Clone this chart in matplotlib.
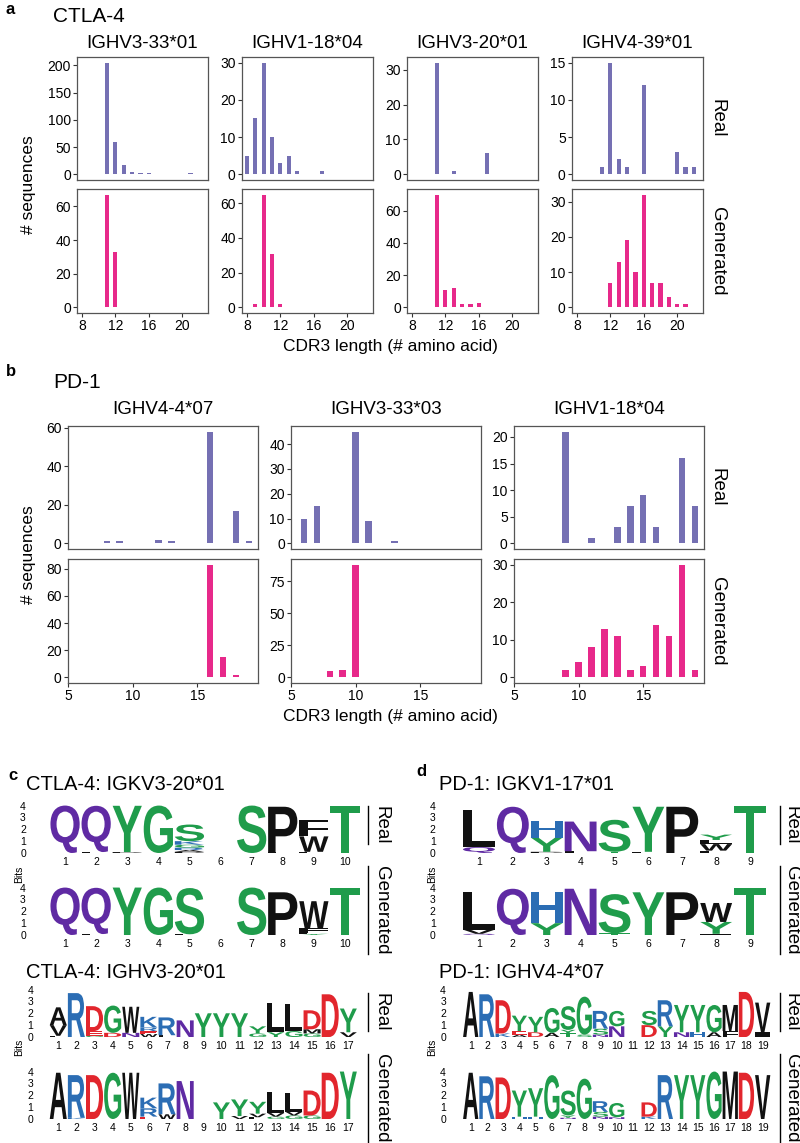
import numpy as np
import matplotlib
matplotlib.use('agg')
import matplotlib.pyplot as plt
import matplotlib.transforms as mtransforms
from matplotlib.textpath import TextPath
from matplotlib.patches import PathPatch
from matplotlib.font_manager import FontProperties
from matplotlib.lines import Line2D

plt.rcParams['font.family'] = ['Liberation Sans', 'DejaVu Sans']

# ---------------- data: CDR3 length histograms ----------------
a_genes = ['IGHV3-33*01', 'IGHV1-18*04', 'IGHV3-20*01', 'IGHV4-39*01']
a_real_len = [[10, 11, 12, 13, 14, 15, 16, 17, 18, 21],
              [8, 9, 10, 11, 12, 13, 14, 17],
              [11, 13, 17],
              [11, 12, 13, 14, 16, 20, 21, 22]]
a_real_cnt = [[1, 205, 60, 18, 4, 3, 2, 1, 1, 3],
              [5, 15, 30, 10, 3, 5, 1, 1],
              [32, 1, 6],
              [1, 15, 2, 1, 12, 3, 1, 1]]
a_gen_len = [[11, 12],
             [9, 10, 11, 12],
             [11, 12, 13, 14, 15, 16],
             [12, 13, 14, 15, 16, 17, 18, 19, 20, 21]]
a_gen_cnt = [[67, 33],
             [2, 65, 31, 2],
             [70, 11, 12, 2, 2, 3],
             [7, 13, 19, 10, 32, 7, 7, 3, 1, 1]]
a_real_yticks = [[0, 50, 100, 150, 200], [0, 10, 20, 30], [0, 10, 20, 30], [0, 5, 10, 15]]
a_gen_yticks = [[0, 20, 40, 60], [0, 20, 40, 60], [0, 20, 40, 60], [0, 10, 20, 30]]
a_xticks = [8, 12, 16, 20]

b_genes = ['IGHV4-4*07', 'IGHV3-33*03', 'IGHV1-18*04']
b_real_len = [[8, 9, 12, 13, 16, 18, 19],
              [6, 7, 10, 11, 13],
              [9, 11, 13, 14, 15, 16, 18, 19]]
b_real_cnt = [[1, 1, 2, 1, 58, 17, 1],
              [10, 15, 45, 9, 1],
              [21, 1, 3, 7, 9, 3, 16, 7]]
b_gen_len = [[16, 17, 18],
             [8, 9, 10],
             [9, 10, 11, 12, 13, 14, 15, 16, 17, 18, 19]]
b_gen_cnt = [[83, 15, 2],
             [5, 6, 88],
             [2, 4, 8, 13, 11, 2, 3, 14, 11, 30, 2]]
b_real_yticks = [[0, 20, 40, 60], [0, 10, 20, 30, 40], [0, 5, 10, 15, 20]]
b_gen_yticks = [[0, 20, 40, 60, 80], [0, 25, 50, 75], [0, 10, 20, 30]]
b_xticks = [5, 10, 15]

# ---------------- data: sequence logos (stacks bottom -> top, bits) ----------------
c_light_real = [[('Q', 4.0)], [('L', 0.08), ('Q', 3.9)], [('P', 0.08), ('Y', 3.9)], [('G', 4.0)],
                [('P', 0.1), ('A', 0.15), ('R', 0.2), ('G', 0.25), ('K', 0.3), ('S', 1.4)],
                [], [('S', 4.0)], [('L', 0.05), ('P', 3.85)],
                [('L', 0.1), ('W', 1.3), ('F', 1.4)], [('T', 4.0)]]
c_light_gen = [[('Q', 4.0)], [('L', 0.08), ('Q', 3.9)], [('Y', 4.0)], [('G', 4.0)],
               [('L', 0.06), ('S', 3.9)], [], [('S', 4.0)], [('P', 3.6)],
               [('Y', 0.1), ('L', 0.1), ('F', 0.35), ('W', 2.3)], [('T', 4.0)]]
c_heavy_real = [[('L', 0.1), ('V', 0.9), ('A', 1.5)], [('R', 3.7)],
                [('G', 0.1), ('E', 0.4), ('D', 2.1)], [('D', 0.35), ('G', 2.3)],
                [('N', 0.35), ('W', 2.2)], [('W', 0.25), ('E', 0.25), ('R', 0.3), ('K', 0.9)],
                [('L', 0.15), ('R', 1.5)], [('N', 1.4)], [('Y', 2.0)], [('Y', 2.0)], [('Y', 2.0)],
                [('G', 0.3), ('Y', 0.6)], [('Y', 0.4), ('L', 2.5)], [('G', 0.5), ('L', 2.3)],
                [('G', 0.3), ('M', 0.35), ('D', 1.6)], [('D', 3.6)], [('V', 0.4), ('Y', 2.0)]]
c_heavy_gen = [[('A', 3.9)], [('K', 0.1), ('R', 3.6)], [('D', 3.7)], [('G', 3.9)], [('W', 3.9)],
               [('E', 0.2), ('R', 0.7), ('K', 0.9)], [('W', 0.4), ('R', 2.6)], [('N', 3.2)], [],
               [('Y', 1.4)], [('V', 0.25), ('Y', 1.4)], [('L', 0.15), ('V', 0.3), ('Y', 1.0)],
               [('G', 0.2), ('V', 0.3), ('L', 1.8)], [('G', 0.3), ('V', 0.3), ('L', 1.6)],
               [('G', 0.3), ('D', 2.1)], [('D', 3.9)], [('Y', 4.0)]]
d_light_real = [[('Q', 0.5), ('L', 3.1)], [('Q', 3.9)], [('P', 0.1), ('Y', 1.2), ('H', 1.4)],
                [('L', 0.15), ('N', 2.5)], [('T', 0.1), ('S', 2.7)], [('L', 0.1), ('Y', 3.8)],
                [('P', 3.9)], [('F', 0.2), ('W', 0.55), ('L', 0.35), ('Y', 0.45)], [('T', 4.0)]]
d_light_gen = [[('Q', 0.1), ('V', 0.35), ('L', 3.2)], [('Q', 3.9)], [('Y', 1.0), ('H', 2.6)],
               [('N', 3.9)], [('T', 0.15), ('S', 3.3)], [('Y', 3.6)], [('P', 3.6)],
               [('F', 0.1), ('Y', 1.0), ('W', 1.6)], [('T', 4.0)]]
d_heavy_real = [[('A', 3.8)], [('R', 3.6)], [('K', 0.3), ('D', 2.8)],
                [('A', 0.2), ('E', 0.3), ('Y', 1.3)], [('D', 0.4), ('Y', 1.3)],
                [('A', 0.35), ('G', 2.1)], [('T', 0.3), ('Y', 0.3), ('S', 2.0)],
                [('S', 0.2), ('G', 3.2)], [('N', 0.2), ('S', 0.5), ('R', 1.5)],
                [('N', 0.9), ('G', 1.3)], [], [('D', 1.0), ('S', 1.2)], [('Y', 0.9), ('R', 2.2)],
                [('N', 0.4), ('Y', 2.3)], [('H', 0.4), ('Y', 2.3)], [('A', 0.4), ('G', 2.3)],
                [('F', 0.5), ('M', 2.2)], [('D', 3.8)], [('I', 0.4), ('V', 2.5)]]
d_heavy_gen = [[('A', 3.9)], [('R', 3.6)], [('D', 3.5)], [('H', 0.2), ('Y', 2.2)],
               [('H', 0.2), ('Y', 2.4)], [('G', 3.7)], [('N', 0.1), ('Y', 0.2), ('S', 2.1)],
               [('G', 3.4)], [('N', 0.2), ('S', 0.4), ('R', 0.9)], [('N', 0.15), ('G', 1.2)], [],
               [('K', 0.2), ('D', 1.2)], [('R', 3.7)], [('Y', 3.7)], [('Y', 3.7)], [('G', 4.0)],
               [('M', 4.0)], [('D', 3.9)], [('V', 3.7)]]

REAL_COL = '#7570b3'
GEN_COL = '#e7298a'
aa_color = {}
for aa in 'GSTYC':
    aa_color[aa] = '#1f9c4b'
for aa in 'QN':
    aa_color[aa] = '#5f2aa3'
for aa in 'KRH':
    aa_color[aa] = '#2b6db4'
for aa in 'DE':
    aa_color[aa] = '#e2262d'
for aa in 'AVLIPWFM':
    aa_color[aa] = '#111111'

W, H = 800, 1143
fig = plt.figure(figsize=(W / 100, H / 100), dpi=100)


def rect(x0, y0, x1, y1):
    return [x0 / W, 1 - y1 / H, (x1 - x0) / W, (y1 - y0) / H]


def ftext(x, y, s, **kw):
    return fig.text(x / W, 1 - y / H, s, **kw)


def bar_panel(box, lens, cnts, color, xlim, xticks, yticks, show_x):
    ax = fig.add_axes(rect(*box))
    ax.bar(lens, cnts, width=0.5, color=color, linewidth=0)
    m = max(cnts)
    ax.set_ylim(-0.05 * m, 1.05 * m)
    ax.set_xlim(*xlim)
    ax.set_xticks(xticks)
    ax.set_yticks(yticks)
    for s in ax.spines.values():
        s.set_color('#555555')
        s.set_linewidth(0.9)
    ax.tick_params(colors='#333333', labelcolor='black', labelsize=10, length=3, width=0.8, pad=1.5)
    if not show_x:
        ax.tick_params(axis='x', length=0, labelbottom=False)
    return ax


# ---------------- panel a ----------------
ftext(5, 10, 'a', fontsize=12, fontweight='bold', va='center')
ftext(53, 16, 'CTLA-4', fontsize=15, va='center')
a_left = [77, 242, 407, 572]
for i, g in enumerate(a_genes):
    x0 = a_left[i]
    bar_panel((x0, 57, x0 + 131, 180), a_real_len[i], a_real_cnt[i], REAL_COL,
              (7.4, 23.1), a_xticks, a_real_yticks[i], False)
    bar_panel((x0, 189, x0 + 131, 313), a_gen_len[i], a_gen_cnt[i], GEN_COL,
              (7.4, 23.1), a_xticks, a_gen_yticks[i], True)
    ftext(x0 + 65.5, 43, g, fontsize=13.5, ha='center', va='center')
ftext(717, 118, 'Real', fontsize=13.5, rotation=270, ha='center', va='center')
ftext(717, 251, 'Generated', fontsize=13.5, rotation=270, ha='center', va='center')
ftext(29, 185, '# sequences', fontsize=12.5, rotation=90, ha='center', va='center')
ftext(390, 346, 'CDR3 length (# amino acid)', fontsize=12.5, ha='center', va='center')

# ---------------- panel b ----------------
ftext(6, 372, 'b', fontsize=12, fontweight='bold', va='center')
ftext(53, 383, 'PD-1', fontsize=15, va='center')
b_left = [68, 291, 514]
for i, g in enumerate(b_genes):
    x0 = b_left[i]
    bar_panel((x0, 426, x0 + 190, 549), b_real_len[i], b_real_cnt[i], REAL_COL,
              (5, 19.7), b_xticks, b_real_yticks[i], False)
    bar_panel((x0, 559, x0 + 190, 683), b_gen_len[i], b_gen_cnt[i], GEN_COL,
              (5, 19.7), b_xticks, b_gen_yticks[i], True)
    ftext(x0 + 95, 409, g, fontsize=13.5, ha='center', va='center')
ftext(717, 487, 'Real', fontsize=13.5, rotation=270, ha='center', va='center')
ftext(717, 621, 'Generated', fontsize=13.5, rotation=270, ha='center', va='center')
ftext(29, 555, '# sequences', fontsize=12.5, rotation=90, ha='center', va='center')
ftext(390, 717, 'CDR3 length (# amino acid)', fontsize=12.5, ha='center', va='center')

# ---------------- logos ----------------
LOGO_FP = FontProperties(family='Liberation Sans', weight='bold')


def draw_letter(ax, ch, x, y, h, w=0.94):
    tp = TextPath((0, 0), ch, size=1, prop=LOGO_FP)
    bb = tp.get_extents()
    tr = (mtransforms.Affine2D().translate(-bb.x0, -bb.y0)
          .scale(w / bb.width, h / bb.height).translate(x - w / 2, y))
    ax.add_patch(PathPatch(tr.transform_path(tp), fc=aa_color[ch], ec='none', lw=0))


def logo_panel(x0, x1, ybase, stacks, ypad):
    ax = fig.add_axes(rect(x0, ybase - 51, x1, ybase))
    for i, stack in enumerate(stacks):
        y = 0.0
        for ch, h in stack:
            draw_letter(ax, ch, i + 1, y, h)
            y += h
    n = len(stacks)
    ax.set_xlim(0.5, n + 0.5)
    ax.set_ylim(0, 4.3)
    ax.set_xticks(range(1, n + 1))
    ax.set_yticks(range(5))
    for s in ax.spines.values():
        s.set_visible(False)
    ax.tick_params(length=0, labelsize=7.5)
    ax.tick_params(axis='x', pad=3)
    ax.tick_params(axis='y', pad=ypad)
    return ax


renderer = fig.canvas.get_renderer()


def side_label(x, y, s, line_x):
    t = ftext(x, y, s, fontsize=13.5, rotation=270, ha='center', va='center')
    bb = t.get_window_extent(renderer)
    y0 = H - bb.y1
    y1 = H - bb.y0
    fig.add_artist(Line2D([line_x / W, line_x / W], [1 - y0 / H, 1 - y1 / H],
                          color='black', lw=1.0, transform=fig.transFigure))


# panel c
ftext(8, 776, 'c', fontsize=12, fontweight='bold', va='center')
ftext(26, 784, 'CTLA-4: IGKV3-20*01', fontsize=14.5, va='center')
logo_panel(49.5, 360.5, 853, c_light_real, 17)
logo_panel(49.5, 360.5, 935, c_light_gen, 17)
ftext(19, 874, 'Bits', fontsize=7.5, rotation=90, ha='center', va='center')
side_label(381, 825, 'Real', 368)
side_label(381, 910, 'Generated', 368)

ftext(26, 972, 'CTLA-4: IGHV3-20*01', fontsize=14.5, va='center')
logo_panel(49.2, 357.4, 1037, c_heavy_real, 11.5)
logo_panel(49.2, 357.4, 1119, c_heavy_gen, 11.5)
ftext(19, 1047, 'Bits', fontsize=7.5, rotation=90, ha='center', va='center')
side_label(381, 1012, 'Real', 368)
side_label(381, 1098, 'Generated', 368)

# panel d
ftext(416, 772, 'd', fontsize=12, fontweight='bold', va='center')
ftext(439, 784, 'PD-1: IGKV1-17*01', fontsize=14.5, va='center')
logo_panel(462, 767, 853, d_light_real, 19)
logo_panel(462, 767, 935, d_light_gen, 19)
ftext(432, 874, 'Bits', fontsize=7.5, rotation=90, ha='center', va='center')
side_label(791, 825, 'Real', 780)
side_label(791, 910, 'Generated', 780)

ftext(439, 972, 'PD-1: IGHV4-4*07', fontsize=14.5, va='center')
logo_panel(462.6, 770.8, 1037, d_heavy_real, 12)
logo_panel(462.6, 770.8, 1119, d_heavy_gen, 12)
ftext(432, 1047, 'Bits', fontsize=7.5, rotation=90, ha='center', va='center')
side_label(791, 1012, 'Real', 780)
side_label(791, 1098, 'Generated', 780)

fig.savefig('out.png', dpi=100)
